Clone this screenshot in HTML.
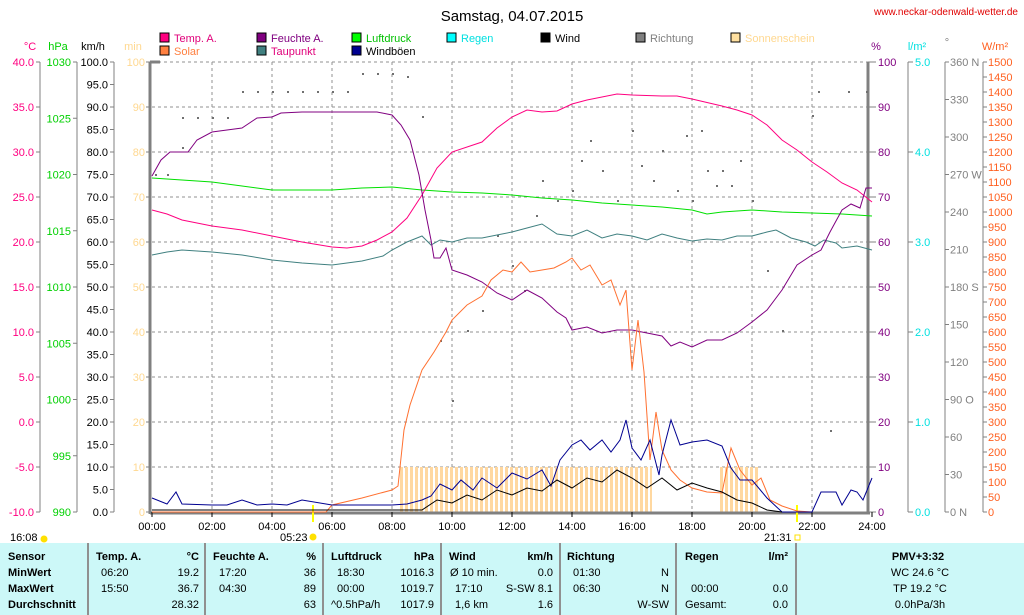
<!DOCTYPE html>
<html><head><meta charset="utf-8"><style>
body{margin:0;background:#fff;width:1024px;height:615px;overflow:hidden;font-family:"Liberation Sans",sans-serif}
svg{display:block}
text{font-family:"Liberation Sans",sans-serif;font-size:11px}
</style></head><body>
<svg id="s" width="1024" height="615" xmlns="http://www.w3.org/2000/svg"></svg>
<script>
var s=document.getElementById('s'),h='';
function T(x,y,t,c,a,w,sz){h+='<text x="'+x+'" y="'+y+'" fill="'+(c||'#000')+'"'+(a?' text-anchor="'+a+'"':'')+(w?' font-weight="bold"':'')+(sz?' style="font-size:'+sz+'px"':'')+'>'+t+'</text>';}
function L(x1,y1,x2,y2,c,w,d){h+='<line x1="'+x1+'" y1="'+y1+'" x2="'+x2+'" y2="'+y2+'" stroke="'+c+'" stroke-width="'+(w||1)+'"'+(d?' stroke-dasharray="'+d+'"':'')+'/>';}
function P(pts,c){var o='';for(var i=0;i<pts.length;i+=2){o+=(152+30*pts[i])+','+pts[i+1]+' ';}h+='<polyline points="'+o+'" fill="none" stroke="'+c+'" stroke-width="1"/>';}
T(512,21,'Samstag, 04.07.2015','#000','middle',0,15);
T(1018,15,'www.neckar-odenwald-wetter.de','#e00000','end',0,10);
var lg=[[160,33,'#ff0080','Temp. A.','#e0007a'],[257,33,'#800080','Feuchte A.','#800080'],[352,33,'#00ff00','Luftdruck','#00c000'],[447,33,'#00ffff','Regen','#00e0e0'],[541,33,'#000','Wind','#000'],[636,33,'#808080','Richtung','#808080'],[731,33,'#ffe0a0','Sonnenschein','#ffd890'],[160,46,'#ff8040','Solar','#ff8040'],[257,46,'#408080','Taupunkt','#e0007a'],[352,46,'#000090','Windböen','#000']];
lg.forEach(function(l){h+='<rect x="'+l[0]+'" y="'+l[1]+'" width="9" height="9" fill="'+l[2]+'" stroke="#000"/>';T(l[0]+14,l[1]+9,l[3],l[4]);});
T(30,50,'°C','#ff0080','middle');T(58,50,'hPa','#00d000','middle');T(93,50,'km/h','#000','middle');T(133,50,'min','#ffd890','middle');
T(876,50,'%','#800080','middle');T(917,50,'l/m²','#00e0e0','middle');T(947,46,'°','#808080','middle');T(995,50,'W/m²','#ff6020','middle');
for(var i=0;i<=10;i++){var y=62+45*i;L(152,y,868,y,'#909090',1,'3,3');}
for(var k=1;k<12;k++){L(152+60*k,62,152+60*k,512,'#909090',1,'3,3');}
h+='<defs><pattern id="pt" width="5" height="10" patternUnits="userSpaceOnUse"><rect x="0" width="3" height="10" fill="#ffd8a0"/></pattern></defs>';
h+='<rect x="398" y="467" width="254" height="45" fill="url(#pt)"/>';
h+='<rect x="720" y="467" width="38" height="45" fill="url(#pt)"/>';
function axis(x,from,to,step,y0,y1,col,fmt){L(x,y0,x,y1,'#808080');var n=Math.round((to-from)/step);for(var i=0;i<=n;i++){var v=from+i*step,y=y0+(y1-y0)*i/n;L(x-4,y,x,y,'#808080');T(x-6,y+4,fmt(v),col,'end');}}
axis(40,40,-10,-5,62,512,'#ff0080',function(v){return v.toFixed(1)});
axis(77,1030,990,-5,62,512,'#00d000',function(v){return v});
axis(114,100,0,-5,62,512,'#000',function(v){return v.toFixed(1)});
for(var i=0;i<=10;i++){T(145,66+45*i,100-10*i,'#ffd890','end');L(146,62+45*i,150,62+45*i,'#808080');}
L(150,62,150,514,'#808080',3);L(150,513,870,513,'#808080',3);L(868,62,868,514,'#808080',3);L(150,62,160,62,'#808080',3);
for(var i=0;i<=10;i++){var y=62+45*i;L(868,y,876,y,'#808080');T(878,y+4,100-10*i,'#800080');}
L(908,62,908,512,'#808080');for(var i=0;i<=5;i++){var y=62+90*i;L(908,y,913,y,'#808080');T(915,y+4,(5-i).toFixed(1),'#00e0e0');}
L(945,62,945,512,'#808080');for(var i=0;i<=12;i++){var y=62+37.5*i,v=360-30*i;L(945,y,949,y,'#808080');var d={360:' N',270:' W',180:' S',90:' O',0:' N'}[v]||'';T(950,y+4,v+d,'#808080');}
L(983,62,983,512,'#808080');for(var i=0;i<=30;i++){var y=62+15*i;L(983,y,987,y,'#808080');T(988,y+4,1500-50*i,'#ff6020');}
for(var k=0;k<=12;k++){var x=152+60*k;L(x,512,x,517,'#000');T(x,530,(k*2<10?'0':'')+(k*2)+':00','#000','middle');}
L(313,505,313,522,'#ffff00',2);L(797,505,797,522,'#ffff00',2);
T(10,541,'16:08');h+='<circle cx="44" cy="539" r="3.5" fill="#ffe000"/>';
T(280,541,'05:23');h+='<circle cx="313" cy="537" r="3.5" fill="#ffe000"/>';
T(764,541,'21:31');h+='<rect x="795" y="535" width="5" height="5" fill="none" stroke="#ffe000"/>';
var dots=[[0.1,174],[0.5,174],[1,147],[1,117],[1.5,117],[2,117],[2.5,117],[3,91],[3.5,91],[4,91],[4.5,91],[5,91],[5.5,91],[6,91],[6.5,91],[7,73],[7.5,73],[8,73],[8.5,76],[9,116],[9.6,340],[10,400],[10.5,330],[11,310],[11.5,235],[12,265],[12.4,290],[12.8,215],[13,180],[13.5,200],[14,190],[14.3,160],[14.6,140],[15,170],[15.5,200],[16,130],[16.3,165],[16.7,180],[17,150],[17.5,190],[17.8,135],[18,200],[18.3,130],[18.5,170],[18.8,185],[19,170],[19.3,185],[19.6,160],[20,200],[20.5,270],[21,330],[22,115],[22.2,91],[22.6,430],[23.2,91],[23.8,91]];
dots.forEach(function(d){h+='<rect x="'+(152+30*d[0])+'" y="'+d[1]+'" width="2" height="2" fill="#707070"/>';});
P([0,178,1,180,2,182,3,186,4,190,5,190,6,190,7,188,8,187,9,190,10,192,11,193,12,195,13,198,14,200,15,203,16,205,17,207,18,210,18.5,214,19,212,20,210,21,212,22,213,23,214,24,216],'#00e000');
P([0,255,0.5,252,1,250,2,252,3,255,4,260,5,263,6,265,7,261,7.7,256,8,250,8.5,242,9,236,9.3,245,9.6,240,10,242,10.5,238,11,238,11.5,235,12,232,12.5,228,13,224,13.5,234,14,236,14.5,230,15,238,15.5,234,16,236,16.5,240,17,234,17.5,238,18,241,18.5,239,19,240,19.5,236,20,236,20.5,232,20.8,230,21.3,238,21.8,242,22.1,246,22.4,240,22.8,243,23,248,23.5,246,24,250],'#408080');
P([0,210,0.5,214,1,220,2,226,3,230,4,236,5,242,6,247,6.5,248,7,246,7.5,240,8,232,8.5,218,9,195,9.5,168,10,152,11,142,11.5,128,12,117,12.5,110,13,112,13.5,111,14,104,14.5,100,15,97,15.5,94,16,95,17,96,17.5,96,18,99,19,106,19.5,110,20,115,20.5,125,21,140,21.5,150,22,162,22.5,172,23,183,23.5,190,24,202],'#ff0080');
P([0,176,0.3,160,0.6,152,1.2,152,1.5,140,2,132,2.5,130,3,128,3.5,118,4,117,4.3,113,5,112,6,112,7,112,7.5,112,8,115,8.3,125,8.6,140,8.9,175,9.1,210,9.3,240,9.4,258,9.6,258,9.8,248,10,270,10.5,275,11,282,11.5,293,12,300,12.5,290,13,298,13.5,312,13.8,318,14,330,14.5,327,15,333,15.5,330,16,330,16.5,333,17,336,17.3,346,17.6,342,18,347,18.5,340,19,340,19.5,333,20,322,20.5,310,21,290,21.5,265,22,255,22.3,250,22.6,232,23,210,23.3,204,23.6,208,23.8,188,24,188],'#800080');
P([0,512,5.8,512,6,505,7,498,8,490,8.2,486,8.4,430,8.6,405,9,370,9.4,352,9.8,332,10,320,10.5,305,11,296,11.3,280,11.7,270,12,272,12.3,262,12.6,272,13,270,13.4,268,13.8,262,14,258,14.3,270,14.6,265,15,285,15.3,280,15.6,305,15.8,290,16,370,16.2,320,16.4,372,16.6,460,16.8,412,17,450,17.3,470,17.6,480,18,488,18.5,492,19,493,19.3,448,19.6,470,20,485,20.3,478,20.6,500,21,506,21.5,511,22,512],'#ff7030');
P([0,498,0.5,504,0.8,492,1,504,2,505,2.5,505,3,500,3.5,505,4,504,4.5,505,5,500,6,505,8,505,8.5,504,9,500,9.3,496,9.6,484,10,490,10.3,480,10.7,490,11,478,11.5,488,12,473,12.5,479,13,470,13.3,486,13.6,460,14,445,14.3,440,14.6,450,15,440,15.3,452,15.6,440,15.8,420,16,448,16.3,460,16.6,440,16.9,475,17,455,17.3,420,17.6,445,18,442,18.5,440,19,446,19.3,468,19.6,480,20,480,20.5,498,21,512,22,512,22.3,492,22.8,492,23,505,23.3,490,23.5,492,23.7,500,24,478],'#000090');
P([0,510,9,510,9.5,500,10,503,10.5,495,11,500,11.5,490,12,495,12.5,488,13,491,13.5,480,14,488,14.5,478,15,482,15.5,470,16,478,16.5,488,17,478,17.5,490,18,483,18.5,488,19,492,19.5,500,20,503,20.5,510,21,512],'#000');
h+='<rect x="0" y="543" width="1024" height="72" fill="#ccf8f8"/>';
[88,205,323,441,560,676,796].forEach(function(x){L(x,543,x,615,'#909090',2);});
function R(y,arr){arr.forEach(function(a){T(a[0],y,a[1],'#000',a[2],a[3]);});}
R(560,[[8,'Sensor',0,1],[96,'Temp. A.',0,1],[199,'°C','end',1],[213,'Feuchte A.',0,1],[316,'%','end',1],[331,'Luftdruck',0,1],[434,'hPa','end',1],[449,'Wind',0,1],[553,'km/h','end',1],[567,'Richtung',0,1],[685,'Regen',0,1],[788,'l/m²','end',1],[918,'PMV+3:32','middle',1]]);
R(576,[[8,'MinWert',0,1],[101,'06:20'],[199,'19.2','end'],[219,'17:20'],[316,'36','end'],[337,'18:30'],[434,'1016.3','end'],[450,'Ø 10 min.'],[553,'0.0','end'],[573,'01:30'],[669,'N','end'],[920,'WC 24.6 °C','middle']]);
R(592,[[8,'MaxWert',0,1],[101,'15:50'],[199,'36.7','end'],[219,'04:30'],[316,'89','end'],[337,'00:00'],[434,'1019.7','end'],[455,'17:10'],[553,'S-SW 8.1','end'],[573,'06:30'],[669,'N','end'],[691,'00:00'],[788,'0.0','end'],[920,'TP 19.2 °C','middle']]);
R(608,[[8,'Durchschnitt',0,1],[199,'28.32','end'],[316,'63','end'],[331,'^0.5hPa/h'],[434,'1017.9','end'],[455,'1,6 km'],[553,'1.6','end'],[669,'W-SW','end'],[685,'Gesamt:'],[788,'0.0','end'],[920,'0.0hPa/3h','middle']]);
s.innerHTML=h;
</script>
</body></html>
